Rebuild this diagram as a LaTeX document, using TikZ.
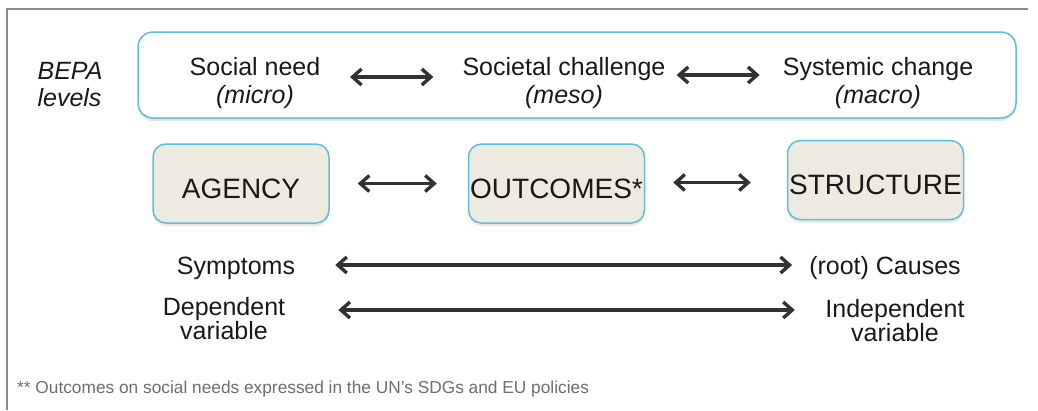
\documentclass[tikz,border=0pt]{standalone}
\usepackage{fontspec}
\setmainfont{Liberation Sans}
\usetikzlibrary{arrows.meta,shadows}
\definecolor{bepacyan}{RGB}{95,190,222}
\definecolor{bepafill}{RGB}{237,234,224}
\definecolor{bepaarrow}{RGB}{50,50,50}
\definecolor{bepatext}{RGB}{25,25,25}
\definecolor{bepanote}{RGB}{110,110,110}
\definecolor{bepaframe}{RGB}{140,140,140}

\begin{document}
\begin{tikzpicture}[x=1pt, y=-1pt, every node/.style={font=\fontsize{25}{24}\selectfont, text=bepatext, inner sep=0pt}]
  \tikzset{
    pillar/.style={draw=bepacyan, line width=1.5pt, fill=bepafill, rounded corners=13pt, minimum width=176pt, minimum height=79pt, text height=29pt, text depth=0pt, font=\fontsize{28}{30}\selectfont, drop shadow={shadow xshift=0pt, shadow yshift=-3pt, opacity=0.2}},
    twoway/.style={draw=bepaarrow, line width=3.4pt, {Straight Barb[length=9pt,width=16pt]}-{Straight Barb[length=9pt,width=16pt]}},
    level/.style={align=center}
  }
  \useasboundingbox (0,0) rectangle (1038,410);
  \draw[bepaframe, line width=1.5pt] (1028,9) -- (7,9) -- (7,410);

  % BEPA levels band
  \node[draw=bepacyan, line width=1.5pt, fill=white, rounded corners=15pt, minimum width=878pt, minimum height=86pt, drop shadow={shadow xshift=0pt, shadow yshift=-3pt, opacity=0.2}] (band) at (577,75) {};
  \node[align=left, font=\itshape\fontsize{25}{27}\selectfont] (bepa) at (70,85) {BEPA\\levels};
  \node[level, font=\fontsize{25}{28}\selectfont] (need) at (255,83.5) {Social need\\\textit{(micro)}};
  \node[level, font=\fontsize{25}{28}\selectfont] (chal) at (564,83.5) {Societal challenge\\\textit{(meso)}};
  \node[level, font=\fontsize{25}{28}\selectfont] (chng) at (878,83.5) {Systemic change\\\textit{(macro)}};
  \draw[twoway, shorten <=29.5pt, shorten >=29pt] ([yshift=6.5pt]need.east) -- ([yshift=6.5pt]need.east -| chal.west);
  \draw[twoway, shorten <=11pt, shorten >=23pt] ([yshift=8.5pt]chal.east) -- ([yshift=8.5pt]chal.east -| chng.west);

  % agency, outcomes, structure
  \node[pillar] (agency)    at (241,183.5) {AGENCY};
  \node[pillar] (outcomes)  at (556.5,183.5) {OUTCOMES*};
  \node[pillar] (structure) at (875.5,180) {STRUCTURE};
  \draw[twoway, shorten <=28pt, shorten >=31pt] (agency.east) -- (outcomes.west);
  \draw[twoway, shorten <=28pt, shorten >=36pt] ([yshift=1pt]outcomes.east) -- ([yshift=1pt]outcomes.east -| structure.west);

  % symptoms vs causes
  \node (symptoms) at (236,268) {Symptoms};
  \node (causes)   at (885,268) {(root) Causes};
  \draw[twoway, shorten <=40pt, shorten >=17pt] ([yshift=3pt]symptoms.east) -- ([yshift=3pt]symptoms.east -| causes.west);
  \node[level] (dependent)   at (224,319) {Dependent\\variable};
  \node[level] (independent) at (895,321) {Independent\\variable};
  \draw[twoway, shorten <=53pt, shorten >=30.5pt] ([yshift=9pt]dependent.east) -- ([yshift=9pt]dependent.east -| independent.west);

  \node[anchor=west, font=\fontsize{17.3}{20}\selectfont, text=bepanote] (note) at (17,389) {** Outcomes on social needs expressed in the UN’s SDGs and EU policies};
\end{tikzpicture}
\end{document}
